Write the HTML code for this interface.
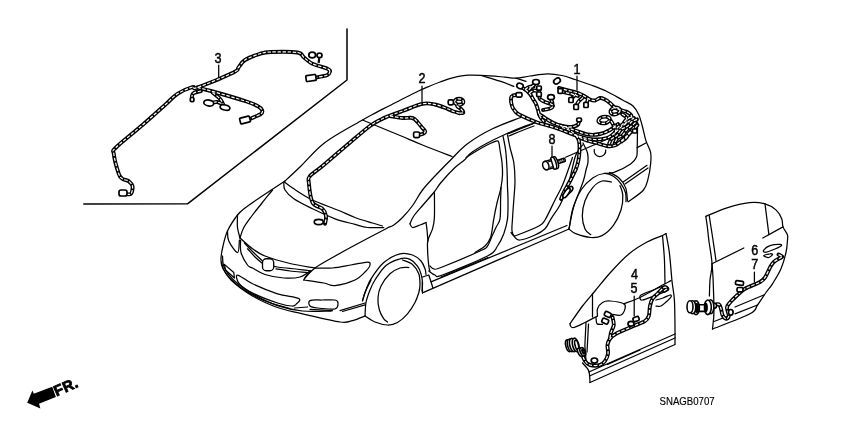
<!DOCTYPE html>
<html><head><meta charset="utf-8"><title>SNAGB0707</title>
<style>
html,body{margin:0;padding:0;background:#fff}
body{width:850px;height:425px;overflow:hidden}
svg{display:block;will-change:transform}
text{font-family:"Liberation Sans",sans-serif;fill:#000}
.t{fill:none;stroke:#000;stroke-width:1.25;stroke-linecap:round;stroke-linejoin:round}
.m{fill:none;stroke:#000;stroke-width:1.5;stroke-linecap:round;stroke-linejoin:round}
.hb{fill:none;stroke:#000;stroke-width:3.9;stroke-linecap:round;stroke-linejoin:round}
.hw{fill:none;stroke:#fff;stroke-width:1.2;stroke-dasharray:3.4 1.6;stroke-linejoin:round}
.c{fill:#fff;stroke:#000;stroke-width:1.7;stroke-linejoin:round}
.n{font-size:14px;stroke:#000;stroke-width:0.45}
</style></head><body>
<svg width="850" height="425" viewBox="0 0 850 425">
<rect width="850" height="425" fill="#fff"/>
<g class="t">
<path d="M285.0,181.0 C287.7,178.5 294.3,172.4 301.0,166.0 C307.7,159.6 314.8,150.2 325.0,142.5 C335.2,134.8 354.0,125.0 362.5,120.0 C371.0,115.0 371.5,115.0 376.0,112.6 C380.5,110.2 384.6,108.2 389.4,105.7 C394.2,103.2 400.1,100.3 405.0,97.8 C409.9,95.3 414.8,92.8 419.0,90.8 C423.2,88.8 426.5,87.5 430.0,86.0 C433.5,84.5 436.2,83.4 440.0,82.0 C443.8,80.6 447.7,78.9 452.5,77.8 C457.3,76.7 462.5,75.5 468.8,75.2 C475.0,74.9 484.0,75.4 490.0,75.8 C496.0,76.1 500.7,76.8 505.0,77.2 C509.3,77.6 511.8,78.5 516.0,78.2 C520.2,78.0 524.8,76.7 530.0,76.0 C535.2,75.3 542.2,74.0 547.5,73.9 C552.8,73.8 557.4,74.6 562.0,75.5 C566.6,76.4 570.2,77.9 575.0,79.5 C579.8,81.1 585.8,83.1 591.0,85.0 C596.2,86.9 600.8,88.5 606.0,91.0 C611.2,93.5 618.0,97.5 622.5,100.0 C627.0,102.5 630.3,103.5 633.0,106.0 C635.7,108.5 637.2,111.3 638.8,114.7 C640.4,118.1 641.2,122.2 642.4,126.5 C643.6,130.8 644.5,136.3 645.9,140.6 C647.3,144.9 649.8,148.5 650.6,152.4 C651.4,156.3 651.0,159.7 650.6,164.0 C650.2,168.3 649.4,173.9 648.2,178.2 C647.0,182.5 646.8,186.1 643.5,190.0 C640.2,193.9 630.8,199.8 628.2,201.8"/>
<path d="M481.2,75.5 C484.4,76.5 494.6,79.4 500.0,81.2 C505.4,83.0 511.5,85.5 513.8,86.4"/>
<path d="M516.0,78.2 L526.0,81.4"/>
<path d="M362.5,120.0 C368.8,122.6 390.0,131.3 400.0,135.5 C410.0,139.7 413.8,141.5 422.5,145.0 C431.2,148.5 447.1,154.6 452.0,156.5"/>
<path d="M388.0,227.5 C389.0,227.1 391.3,226.7 393.8,225.0 C396.2,223.3 399.3,220.8 402.5,217.5 C405.7,214.2 409.7,209.6 413.0,205.0 C416.3,200.4 418.8,194.8 422.5,190.0 C426.2,185.2 430.3,181.0 435.0,176.0 C439.7,171.0 445.2,165.4 450.6,160.0 C456.0,154.6 460.5,149.0 467.5,143.8 C474.5,138.5 483.6,133.1 492.5,128.8 C501.4,124.4 515.9,119.4 520.6,117.5"/>
<path d="M410.0,223.8 C410.6,222.5 411.6,219.1 413.8,216.0 C415.9,212.9 419.7,208.9 423.0,205.0 C426.3,201.1 430.8,196.2 433.8,192.5 C436.8,188.8 437.5,186.7 441.0,182.5 C444.5,178.3 451.1,171.2 455.0,167.5 C458.9,163.8 461.7,162.4 464.4,160.0 C467.1,157.6 467.4,155.7 471.0,153.0 C474.6,150.3 480.5,146.8 486.0,143.8 C491.5,140.8 497.2,137.9 503.8,135.0 C510.2,132.1 519.6,128.3 525.0,126.2 C530.4,124.2 534.2,123.1 536.0,122.5"/>
<path d="M466.0,157.5 C468.8,155.8 477.5,150.2 482.5,147.5 C487.5,144.8 493.3,142.1 496.0,141.2 C498.7,140.4 498.1,141.0 498.8,142.5 C499.4,144.0 499.5,146.7 500.0,150.0 C500.5,153.3 501.6,158.3 502.0,162.5 C502.4,166.7 502.7,170.8 502.5,175.0 C502.3,179.2 501.9,182.8 501.0,187.5 C500.1,192.2 498.2,197.8 497.0,203.0 C495.8,208.2 494.8,213.0 493.8,218.8 C492.7,224.5 492.1,233.0 490.6,237.5 C489.1,242.0 487.6,243.5 485.0,246.0 C482.4,248.5 476.7,251.4 475.0,252.5"/>
<path d="M507.5,134.0 C509.6,133.2 515.8,130.7 520.0,129.0 C524.2,127.3 530.4,124.8 532.5,124.0"/>
<path d="M509.0,136.0 C511.0,135.2 516.8,132.7 521.0,131.0 C525.2,129.3 531.8,126.8 534.0,126.0"/>
<path d="M284.4,182.0 C286.0,183.1 289.1,185.8 293.8,188.8 C298.4,191.8 305.2,196.5 312.5,200.0 C319.8,203.5 330.4,207.1 337.5,210.0 C344.6,212.9 349.2,215.3 355.0,217.5 C360.8,219.7 367.9,221.6 372.5,223.0 C377.1,224.4 380.8,225.5 382.5,226.0"/>
<path d="M283.8,182.5 C284.0,183.8 283.3,187.3 285.0,190.0 C286.7,192.7 289.2,195.6 293.8,198.8 C298.3,201.9 305.6,205.4 312.5,208.8 C319.4,212.1 327.9,216.1 335.0,218.8 C342.1,221.4 349.6,222.9 355.0,224.4 C360.4,225.9 362.7,227.0 367.5,227.5 C372.3,228.0 381.0,227.5 383.8,227.5"/>
<path d="M285.0,181.0 C280.8,183.8 266.7,193.0 260.0,197.5 C253.3,202.0 248.8,205.1 245.0,208.0 C241.2,210.9 240.4,211.2 237.5,215.0 C234.6,218.8 229.9,225.8 227.5,231.0 C225.1,236.2 224.1,241.4 223.0,246.0 C221.9,250.6 221.1,255.2 221.0,258.8 C220.9,262.3 220.8,264.0 222.5,267.5 C224.2,271.0 226.0,275.2 231.0,280.0 C236.0,284.8 244.8,291.4 252.5,296.0 C260.2,300.6 269.2,304.5 277.5,307.5 C285.8,310.5 292.1,311.3 302.5,313.8 C312.9,316.2 331.7,320.9 340.0,322.0 C348.3,323.1 348.3,321.6 352.5,320.6 C356.7,319.6 362.9,316.8 365.0,316.0"/>
<path d="M272.5,190.0 C270.8,192.2 265.3,198.8 262.0,203.0 C258.7,207.2 255.5,210.9 252.5,215.0 C249.5,219.1 245.8,223.7 243.8,227.5 C241.7,231.3 240.6,236.2 240.0,238.0"/>
<path d="M237.5,215.0 C237.5,217.1 237.1,223.7 237.5,227.5 C237.9,231.3 239.6,236.2 240.0,238.0"/>
<path d="M240.0,238.0 C242.1,239.8 248.3,245.8 252.5,248.8 C256.7,251.8 258.8,253.5 265.0,256.0 C271.2,258.5 281.7,261.5 290.0,263.5 C298.3,265.5 310.8,267.2 315.0,268.0"/>
<path d="M305.0,278.0 C306.7,276.3 310.4,271.4 315.0,268.0 C319.6,264.6 325.4,261.5 332.5,257.5 C339.6,253.5 348.3,248.7 357.5,243.8 C366.7,238.8 382.5,230.6 387.5,228.0"/>
<path d="M222.5,256.0 C222.8,257.8 222.2,263.1 224.0,267.0 C225.8,270.9 228.2,275.0 233.0,279.5 C237.8,284.0 245.6,289.6 253.0,294.0 C260.4,298.4 269.2,302.8 277.5,305.6 C285.8,308.4 293.6,310.1 302.5,311.0 C311.4,311.9 326.2,311.0 331.0,311.0"/>
<path d="M221.5,262.0 C222.1,263.7 221.9,267.8 225.0,272.0 C228.1,276.2 233.3,282.2 240.0,287.0 C246.7,291.8 256.7,297.4 265.0,301.0 C273.3,304.6 285.8,307.2 290.0,308.5"/>
<path d="M340.0,310.6 L365.0,303.0"/>
<path d="M342.5,311.5 L365.0,304.8"/>
<path d="M371.0,280.0 C370.0,282.1 366.4,289.1 365.0,292.5 C363.6,295.9 362.9,299.2 362.5,300.6"/>
<path d="M227.5,231.0 C227.7,232.7 227.1,237.4 228.8,241.0 C230.4,244.6 235.7,252.7 237.5,252.5 C239.3,252.3 239.1,242.1 239.4,240.0"/>
<path d="M224.4,264.4 L233.8,272.5 L234.4,278.0 L225.5,270.0Z"/>
<path d="M240.6,240.0 C240.7,242.1 239.8,248.3 241.0,252.5 C242.2,256.7 245.6,262.4 247.5,265.0 C249.4,267.6 249.6,266.4 252.5,268.0 C255.4,269.6 259.8,272.8 265.0,274.5 C270.2,276.2 277.9,277.6 283.8,278.0 C289.6,278.4 295.6,278.2 300.0,277.0 C304.4,275.8 308.3,272.0 310.0,271.0"/>
<path d="M244.4,243.0 C245.8,244.5 250.0,249.0 253.0,252.0 C256.0,255.0 260.9,259.5 262.5,261.0"/>
<path d="M247.5,248.8 C248.8,250.1 252.5,254.5 255.0,257.0 C257.5,259.5 261.2,262.4 262.5,263.5"/>
<path d="M273.8,266.0 C274.4,266.2 271.5,266.2 277.5,267.0 C283.5,267.8 304.6,270.0 310.0,270.6"/>
<path d="M276.0,268.8 C278.3,269.1 284.8,270.4 290.0,271.0 C295.2,271.6 304.6,272.2 307.5,272.5"/>
<path d="M315.0,268.0 C317.9,268.0 326.5,268.5 332.5,268.0 C338.5,267.5 345.2,266.0 351.0,265.0 C356.8,264.0 364.3,262.0 367.5,262.0 C370.7,262.0 370.2,263.5 370.0,265.0 C369.8,266.5 368.5,268.5 366.0,271.0 C363.5,273.5 360.2,277.6 355.0,280.0 C349.8,282.4 340.2,285.1 335.0,285.6 C329.8,286.1 329.0,283.9 323.8,283.0 C318.5,282.1 307.1,280.5 303.8,280.0"/>
<path d="M303.8,280.0 C304.1,279.3 304.8,277.6 306.0,276.0 C307.2,274.4 310.2,271.4 311.0,270.5"/>
<path d="M237.5,275.0 C239.7,275.0 245.8,280.6 252.5,283.8 C259.2,286.9 269.8,291.3 277.5,293.8 C285.2,296.2 295.7,296.7 298.8,298.5 C301.8,300.3 297.1,303.1 296.0,304.4 C294.9,305.6 295.1,306.2 292.0,306.0 C288.9,305.8 284.1,305.2 277.5,303.0 C270.9,300.8 258.9,296.2 252.5,293.0 C246.2,289.8 241.9,286.8 239.4,283.8 C236.9,280.8 235.3,275.0 237.5,275.0Z"/>
<path d="M310.0,300.6 C312.0,299.6 317.8,300.1 322.0,300.0 C326.2,299.9 332.3,299.5 335.0,300.0 C337.7,300.5 338.0,301.5 338.0,303.0 C338.0,304.5 338.4,307.9 335.0,308.8 C331.6,309.6 321.7,308.5 317.5,308.0 C313.3,307.5 311.2,307.2 310.0,306.0 C308.8,304.8 308.0,301.6 310.0,300.6Z"/>
<path d="M294.4,308.0 L307.5,307.0"/>
<path d="M310.0,309.4 L332.5,310.6"/>
<path d="M362.5,301.0 C363.1,299.2 364.6,293.7 366.0,290.0 C367.4,286.3 368.0,283.3 371.0,278.8 C374.0,274.2 378.9,266.7 383.8,262.5 C388.6,258.3 395.2,255.0 400.0,253.8 C404.8,252.5 409.0,253.8 412.5,255.0 C416.0,256.2 418.9,258.7 421.0,261.0 C423.1,263.3 424.2,266.5 425.0,268.8 C425.8,271.0 425.8,273.5 426.0,274.4"/>
<path d="M365.0,316.0 C365.2,313.8 365.2,306.8 366.0,302.5 C366.8,298.2 368.5,293.8 370.0,290.0 C371.5,286.2 372.3,284.1 375.0,280.0 C377.7,275.9 381.8,269.1 386.0,265.6 C390.2,262.1 396.0,259.8 400.0,258.8 C404.0,257.7 407.1,258.2 410.0,259.4 C412.9,260.6 415.7,263.6 417.5,266.0 C419.3,268.4 420.2,271.0 421.0,273.8 C421.8,276.5 422.3,279.6 422.5,282.5 C422.7,285.4 422.1,289.6 422.0,291.0"/>
<path d="M402.5,260.0 C404.2,260.7 409.8,262.1 412.5,264.4 C415.2,266.7 417.5,270.3 418.8,273.8 C420.0,277.2 420.0,281.9 420.0,285.0 C420.0,288.1 419.6,289.6 418.8,292.5 C417.9,295.4 416.9,299.0 415.0,302.5 C413.1,306.0 410.4,310.4 407.5,313.8 C404.6,317.1 400.8,320.6 397.5,322.5 C394.2,324.4 391.2,325.1 387.5,325.0 C383.8,324.9 378.8,323.5 375.0,322.0 C371.2,320.5 366.7,317.0 365.0,316.0"/>
<path d="M408.8,267.5 C407.3,267.6 403.1,267.0 400.0,268.0 C396.9,269.0 393.2,270.8 390.0,273.8 C386.8,276.8 383.0,282.0 381.0,286.0 C379.0,290.0 378.3,293.5 378.0,297.5 C377.7,301.5 378.4,306.5 379.4,310.0 C380.4,313.5 382.4,316.8 383.8,318.8 C385.1,320.8 386.9,321.5 387.5,322.0"/>
<path d="M434.4,192.5 C434.4,196.7 434.7,211.5 434.4,217.5 C434.1,223.5 433.6,225.0 432.5,228.8 C431.4,232.5 428.8,236.9 428.0,240.0 C427.2,243.1 427.4,243.2 427.5,247.5 C427.6,251.8 428.3,262.1 428.8,266.0 C429.2,269.9 429.8,270.2 430.0,271.0"/>
<path d="M410.0,223.8 C410.4,224.4 410.8,227.3 412.5,227.5 C414.2,227.7 417.8,225.8 420.0,225.0 C422.2,224.2 425.0,222.9 426.0,222.5"/>
<path d="M426.0,222.5 C426.2,223.8 426.7,226.9 427.0,230.0 C427.3,233.1 427.8,239.2 428.0,241.0"/>
<path d="M430.0,266.0 C430.6,266.5 431.9,268.5 433.8,268.8 C435.6,269.0 433.3,270.5 441.0,267.5 C448.7,264.5 472.2,254.6 480.0,251.0 C487.8,247.4 485.4,248.7 487.5,246.0 C489.6,243.3 491.1,238.1 492.5,235.0 C493.9,231.9 494.8,230.2 496.0,227.5 C497.2,224.8 499.2,223.3 500.0,218.8 C500.8,214.2 500.4,205.2 500.6,200.0 C500.8,194.8 500.9,189.6 501.0,187.5"/>
<path d="M428.8,271.0 C429.8,271.7 432.7,274.3 435.0,275.0 C437.3,275.7 433.8,278.2 442.5,275.0 C451.2,271.8 478.3,260.8 487.5,256.0 C496.7,251.2 494.8,249.7 497.5,246.0 C500.2,242.3 502.1,238.3 503.8,233.8 C505.4,229.2 506.8,224.4 507.5,218.8 C508.2,213.1 508.0,205.2 508.0,200.0 C508.0,194.8 507.7,192.7 507.5,187.5 C507.3,182.3 507.3,175.0 507.0,168.8 C506.7,162.5 506.3,155.5 505.6,150.0 C504.9,144.5 503.4,138.3 503.0,136.0"/>
<path d="M441.0,277.0 L488.0,257.5"/>
<path d="M507.5,135.0 C507.9,137.1 509.0,142.9 510.0,147.5 C511.0,152.1 512.9,156.9 513.8,162.5 C514.6,168.1 515.0,174.8 515.0,181.0 C515.0,187.2 514.2,193.7 513.8,200.0 C513.3,206.3 512.8,213.6 512.5,218.8 C512.2,223.9 511.6,227.9 512.0,231.0 C512.4,234.1 513.7,236.0 515.0,237.5 C516.3,239.0 516.7,240.4 520.0,240.0 C523.3,239.6 530.8,236.9 535.0,235.0 C539.2,233.1 542.3,231.5 545.0,228.8 C547.7,226.0 548.5,222.7 551.0,218.8 C553.5,214.8 557.2,210.3 560.0,205.0 C562.8,199.7 565.0,194.9 567.5,187.0 C570.0,179.1 573.1,163.7 575.0,157.5 C576.9,151.3 577.5,152.1 578.8,150.0 C580.0,147.9 581.9,145.8 582.5,145.0"/>
<path d="M511.0,232.5 C511.5,233.0 512.7,235.2 513.8,235.6 C514.8,236.0 513.3,236.6 517.5,235.0 C521.7,233.4 534.2,228.5 538.8,226.0 C543.3,223.5 542.3,224.3 545.0,220.0 C547.7,215.7 552.0,206.0 555.0,200.0 C558.0,194.0 560.1,191.1 563.0,184.0 C565.9,176.9 570.9,161.9 572.5,157.5"/>
<path d="M431.0,281.8 L567.0,225.5"/>
<path d="M422.5,292.9 L569.0,229.0"/>
<path d="M422.5,277.0 L428.8,275.0 L431.0,281.8 L433.0,288.3"/>
<path d="M422.3,282.0 L422.5,292.9"/>
<path d="M583.0,143.0 C583.8,144.7 586.7,149.8 587.5,153.0 C588.3,156.2 588.2,159.2 588.0,162.0 C587.8,164.8 586.8,166.7 586.0,170.0 C585.2,173.3 585.0,175.9 583.0,182.0 C581.0,188.1 576.1,198.6 573.8,206.4 C571.5,214.2 569.8,225.2 569.0,229.0"/>
<path d="M569.0,229.0 C569.7,225.6 570.9,214.9 573.0,208.3 C575.1,201.7 578.1,194.6 581.4,189.5 C584.7,184.4 588.9,180.7 592.7,178.0 C596.5,175.3 600.5,173.8 604.0,173.5 C607.5,173.2 610.6,174.6 613.4,176.3 C616.2,178.0 619.0,181.0 621.0,183.8 C623.0,186.6 624.8,190.0 625.6,193.0 C626.4,196.0 625.9,200.2 626.0,201.7"/>
<path d="M609.6,172.5 C611.2,173.4 616.3,175.5 619.0,178.0 C621.7,180.5 624.2,183.8 625.6,187.6 C627.0,191.4 627.2,198.6 627.5,200.8"/>
<path d="M569.0,229.0 C570.1,229.8 572.1,232.3 575.7,233.7 C579.3,235.1 586.4,237.2 590.8,237.5 C595.2,237.8 598.2,237.6 602.0,235.6 C605.8,233.6 610.2,229.6 613.4,225.3 C616.6,221.0 619.4,215.1 621.0,210.0 C622.6,204.9 623.0,199.1 622.8,195.0 C622.6,190.9 620.5,187.2 620.0,185.7"/>
<path d="M611.5,182.0 C609.9,181.8 605.1,180.1 602.0,181.0 C598.9,181.9 595.5,184.3 592.7,187.6 C589.9,190.9 586.7,196.1 585.0,200.8 C583.3,205.5 582.3,211.1 582.3,215.8 C582.3,220.5 583.6,225.8 585.0,229.0 C586.4,232.2 589.8,233.8 590.8,234.7"/>
<path d="M594.3,149.5 A5.8,5.8 0 1 0 605.7,150"/>
<path d="M604.0,173.5 C605.7,173.3 609.6,174.0 614.0,172.4 C618.4,170.8 626.9,166.6 630.6,164.0 C634.4,161.4 635.4,159.7 636.5,157.0 C637.6,154.3 637.0,153.5 637.2,147.6 C637.4,141.7 637.5,126.1 637.6,121.8"/>
<path d="M637.2,147.6 L645.9,143.0"/>
<path d="M623.5,181.8 L647.0,165.3"/>
<path d="M625.0,184.0 L648.0,168.0"/>
<path d="M570.0,323.8 C572.1,320.8 578.3,311.5 582.5,306.0 C586.7,300.5 590.4,296.5 595.0,291.0 C599.6,285.5 604.4,279.2 610.0,273.0 C615.6,266.8 622.5,259.2 628.8,254.0 C635.0,248.8 641.9,244.8 647.5,241.8 C653.1,238.7 659.4,236.9 662.5,235.5 C665.6,234.1 665.4,233.9 666.0,233.6"/>
<path d="M666.0,233.6 C666.6,236.8 668.4,245.1 669.4,253.0 C670.4,260.9 671.2,273.2 672.0,281.0 C672.8,288.8 673.9,292.2 674.4,300.0 C674.9,307.8 674.9,320.7 675.0,328.0 C675.1,335.3 675.0,341.3 675.0,344.0"/>
<path d="M662.5,235.5 C662.8,239.4 664.0,251.0 664.4,259.0 C664.8,267.0 664.9,279.6 665.0,283.8"/>
<path d="M570.0,323.8 C570.1,324.1 569.9,325.4 570.5,326.0 C571.1,326.6 571.3,328.1 573.8,327.5 C576.2,326.9 581.0,324.4 585.0,322.5 C589.0,320.6 595.4,317.1 597.5,316.0"/>
<path d="M592.5,293.8 L592.5,317.0"/>
<path d="M623.8,303.8 C626.2,302.8 631.9,301.3 638.8,298.0 C645.6,294.7 659.6,286.6 665.0,283.8 C670.4,280.9 670.0,281.1 671.0,280.6"/>
<path d="M586.0,322.5 C585.8,325.9 585.2,338.8 585.0,343.0 C584.8,347.2 584.8,344.7 585.0,347.5 C585.2,350.3 585.8,357.9 586.0,360.0"/>
<path d="M588.5,324.0 C588.3,327.2 587.8,338.3 587.5,343.0 C587.2,347.7 587.1,350.5 587.0,352.0"/>
<path d="M582.5,363.0 C583.5,364.3 587.5,367.8 588.8,371.0 C590.0,374.2 589.8,380.6 590.0,382.5"/>
<path d="M588.8,372.0 L675.0,334.0"/>
<path d="M589.4,376.0 L675.0,338.0"/>
<path d="M590.0,382.5 L675.0,344.5"/>
<path d="M607.5,364.4 L640.0,350.0"/>
<path d="M597.5,316.0 C597.5,314.8 596.7,311.0 597.5,308.8 C598.3,306.5 600.4,303.8 602.5,302.5 C604.6,301.2 606.5,300.8 610.0,301.0 C613.5,301.2 621.2,302.5 623.8,303.8 C626.2,305.0 625.5,306.9 625.0,308.8 C624.5,310.6 623.1,314.1 621.0,315.0 C618.9,315.9 613.9,314.5 612.5,314.4"/>
<path d="M596.0,317.5 C596.2,318.5 595.9,322.6 597.0,323.8 C598.1,324.9 601.6,324.3 602.5,324.4"/>
<path d="M641.0,295.0 C643.0,293.8 648.2,292.0 652.0,290.5 C655.8,289.0 661.1,286.5 663.8,286.0 C666.4,285.5 667.4,286.7 668.0,287.5 C668.6,288.3 669.7,289.3 667.5,290.6 C665.3,291.9 659.2,293.9 655.0,295.5 C650.8,297.1 645.0,299.6 642.5,300.0 C640.0,300.4 640.2,298.8 640.0,298.0 C639.8,297.2 639.0,296.2 641.0,295.0Z"/>
<path d="M656.0,300.0 C657.2,299.7 660.7,298.8 663.0,298.0 C665.3,297.2 668.7,295.2 670.0,295.0 C671.3,294.8 671.7,295.8 671.0,297.0 C670.3,298.2 667.7,300.5 666.0,302.0 C664.3,303.5 662.7,305.3 661.0,306.0 C659.3,306.7 656.8,306.0 656.0,306.0"/>
<path d="M705.8,216.4 C709.3,215.0 719.7,210.2 727.0,207.9 C734.3,205.6 743.1,203.4 749.4,202.7 C755.7,202.0 760.5,202.7 765.0,203.9 C769.5,205.1 773.4,207.6 776.2,210.1 C779.0,212.6 780.7,216.2 781.8,219.0 C782.9,221.8 782.1,224.3 783.0,226.9 C783.9,229.5 786.6,232.5 787.4,234.7 C788.1,236.9 787.7,237.0 787.5,240.0 C787.3,243.0 787.1,247.7 786.0,252.5 C784.9,257.3 783.2,263.5 781.0,268.8 C778.8,274.0 775.0,279.8 772.5,283.8 C770.0,287.7 768.5,289.0 766.0,292.5 C763.5,296.0 760.2,301.5 757.5,305.0 C754.8,308.5 757.5,309.8 750.0,313.8 C742.5,317.8 718.8,326.5 712.5,329.0"/>
<path d="M705.8,216.4 C706.1,218.3 707.0,224.1 707.5,228.0 C708.0,231.9 708.0,234.0 708.8,240.0 C709.5,246.0 711.8,257.1 712.0,263.8 C712.2,270.4 710.4,274.6 710.0,280.0 C709.6,285.4 709.5,293.3 709.4,296.0"/>
<path d="M709.2,215.7 C709.8,219.8 711.9,232.5 713.0,240.0 C714.1,247.5 715.5,257.2 716.0,260.6"/>
<path d="M712.0,263.8 C712.2,266.0 712.7,271.5 713.0,277.5 C713.3,283.5 713.6,293.6 713.8,300.0 C713.9,306.4 714.0,311.2 713.8,316.0 C713.5,320.8 712.7,326.8 712.5,329.0"/>
<path d="M712.0,263.8 L743.8,248.0"/>
<path d="M762.8,238.0 L783.0,226.9"/>
<path d="M765.0,203.9 L768.9,234.7"/>
<path d="M735.0,307.0 L763.8,295.0"/>
<path d="M735.0,313.8 L757.5,305.0"/>
<path d="M714.0,321.5 L727.0,316.5"/>
<path d="M763.8,250.0 C764.6,248.9 767.3,246.5 770.0,245.6 C772.7,244.7 778.2,244.3 780.0,244.4 C781.8,244.5 782.2,245.1 781.0,246.0 C779.8,246.9 775.2,248.9 772.5,250.0 C769.8,251.1 766.5,252.3 765.0,252.3 C763.5,252.3 762.9,251.1 763.8,250.0Z"/>
<path d="M763.8,255.6 C764.0,255.0 768.5,253.9 770.0,253.8 C771.5,253.6 772.7,253.9 772.5,254.5 C772.3,255.1 770.2,257.3 768.8,257.5 C767.3,257.7 763.5,256.2 763.8,255.6Z"/>
<path d="M318.8,57.5 L318.2,62.5"/>
<path d="M319.8,57.5 L319.2,62.5"/>
<path d="M565.6,157.2 L614.0,136.3"/>
<path d="M218.7,65.0 L218.7,77.0"/>
<path d="M422.0,86.0 L422.0,103.0"/>
<path d="M577.0,76.0 L577.0,90.0"/>
<path d="M552.0,146.0 L552.0,157.5"/>
<path d="M634.2,296.0 L634.2,316.0"/>
<path d="M754.4,272.0 L754.4,282.0"/>
</g>
<g class="m">
<path d="M347.0,29.0 L347.0,80.0 L187.5,203.8 L83.8,204.0"/>
</g>
<g class="hb">
<path d="M330.0,71.0 C329.6,70.6 330.4,70.0 327.5,68.8 C324.6,67.5 316.4,65.6 312.5,63.8 C308.6,61.9 306.5,59.4 304.0,57.5 C301.5,55.6 303.0,53.4 297.5,52.5 C292.0,51.6 277.2,51.8 271.0,52.0 C264.8,52.2 264.3,52.4 260.0,53.8 C255.7,55.1 248.6,57.7 245.0,60.0 C241.4,62.3 240.4,65.4 238.5,67.5 C236.6,69.6 240.3,69.2 233.5,72.5 C226.7,75.8 204.3,85.1 197.5,87.5 C190.7,89.9 195.8,86.0 192.5,87.0 C189.2,88.0 182.1,90.8 177.5,93.8 C172.9,96.8 170.8,99.8 165.0,105.0 C159.2,110.2 150.7,117.9 142.5,125.0 C134.3,132.1 120.8,142.7 116.0,147.5 C111.2,152.3 113.3,149.4 113.8,153.8 C114.2,158.1 117.3,169.6 118.8,173.8 C120.2,177.9 120.8,177.5 122.5,178.8 C124.2,180.0 127.1,180.0 128.8,181.2 C130.4,182.5 132.1,184.2 132.5,186.2 C132.9,188.3 132.1,192.5 131.0,193.8 C129.9,195.0 126.8,194.0 126.0,194.0"/>
<path d="M330.0,71.0 C329.6,71.7 329.8,73.9 327.5,75.0 C325.2,76.1 317.9,77.1 316.0,77.5"/>
<path d="M197.5,87.5 C199.8,88.1 203.1,88.8 211.0,91.0 C218.9,93.2 237.2,98.5 245.0,101.0 C252.8,103.5 254.7,104.5 257.5,106.0 C260.3,107.5 261.4,108.7 262.0,110.0 C262.6,111.3 263.0,112.2 261.0,113.8 C259.0,115.2 251.8,118.1 250.0,119.0"/>
<path d="M201.0,91.0 C199.8,91.3 195.2,92.2 193.8,93.0 C192.2,93.8 192.3,94.8 192.0,96.0 C191.7,97.2 192.0,99.3 192.0,100.0"/>
<path d="M212.5,92.5 C213.8,93.5 218.3,97.0 220.0,98.8 C221.7,100.5 221.9,101.9 222.5,103.0 C223.1,104.1 223.3,105.1 223.5,105.5"/>
<path d="M221.5,103.5 C220.8,103.2 218.4,102.2 217.0,102.0 C215.6,101.8 213.7,102.4 213.0,102.5"/>
<path d="M459.6,113.2 C458.6,112.9 455.8,112.2 453.8,111.5 C451.7,110.8 450.6,109.9 447.5,108.8 C444.4,107.6 439.2,105.3 435.0,104.5 C430.8,103.7 427.9,102.7 422.5,103.8 C417.1,104.8 408.1,109.0 402.5,111.0 C396.9,113.0 392.1,114.7 388.8,116.0 C385.4,117.3 385.6,117.1 382.5,118.8 C379.4,120.4 375.4,122.0 370.0,126.0 C364.6,130.0 357.9,135.8 350.0,142.5 C342.1,149.2 329.2,160.4 322.5,166.0 C315.8,171.6 312.3,173.2 310.0,176.0 C307.7,178.8 308.3,178.1 308.8,182.5 C309.2,186.9 310.2,198.1 312.5,202.5 C314.8,206.9 320.2,206.5 322.5,208.8 C324.8,211.0 325.6,213.5 326.0,216.0 C326.4,218.5 325.2,222.5 325.0,223.8"/>
<path d="M390.0,116.0 C392.1,116.3 398.9,117.7 402.6,118.0 C406.4,118.3 410.0,117.3 412.5,118.0 C415.0,118.7 415.8,120.3 417.4,122.0 C419.0,123.7 421.1,126.3 422.4,127.9 C423.7,129.5 425.1,130.5 425.2,131.5 C425.3,132.5 423.9,133.3 423.0,133.8 C422.1,134.3 420.5,134.5 420.0,134.6"/>
<path d="M459.6,113.2 C460.2,113.1 463.1,113.3 463.3,112.6 C463.5,111.9 462.0,110.0 461.0,109.0 C460.0,108.0 458.2,107.2 457.5,106.5 C456.8,105.8 456.9,104.8 456.8,104.5"/>
<path d="M454.6,101.8 a4.4,3 0 1 0 8.8,0 a4.4,3 0 1 0 -8.8,0"/>
<path d="M517.0,95.0 C516.3,95.1 514.0,95.0 513.0,95.5 C512.0,96.0 511.2,96.2 511.0,98.0 C510.8,99.8 511.3,103.8 512.0,106.0 C512.7,108.2 513.7,109.5 515.0,111.0 C516.3,112.5 516.5,113.2 520.0,115.0 C523.5,116.8 530.0,119.8 536.0,122.0 C542.0,124.2 549.0,125.7 556.0,128.0 C563.0,130.3 571.7,134.1 578.0,136.0 C584.3,137.9 589.2,139.2 594.0,139.5 C598.8,139.8 603.7,139.0 607.0,138.0 C610.3,137.0 611.8,135.2 614.0,133.5 C616.2,131.8 617.7,129.9 620.0,128.0 C622.3,126.1 625.7,123.7 628.0,122.0 C630.3,120.3 633.0,118.7 634.0,118.0"/>
<path d="M521.0,87.0 C521.8,87.5 524.5,88.8 526.0,90.0 C527.5,91.2 528.8,92.5 530.0,94.0 C531.2,95.5 532.0,97.3 533.0,99.0 C534.0,100.7 535.2,102.2 536.0,104.0 C536.8,105.8 537.5,108.3 538.0,110.0 C538.5,111.7 538.5,112.7 539.0,114.0 C539.5,115.3 540.2,116.8 541.0,118.0 C541.8,119.2 543.5,120.9 544.0,121.5"/>
<path d="M535.0,84.0 C534.3,84.6 532.2,86.3 531.0,87.5 C529.8,88.7 528.5,90.4 528.0,91.0"/>
<path d="M539.0,90.0 C539.1,91.0 539.3,94.5 539.5,96.0 C539.7,97.5 539.1,98.0 540.0,99.0 C540.9,100.0 543.2,101.2 545.0,102.0 C546.8,102.8 549.7,103.3 551.0,104.0 C552.3,104.7 553.2,105.2 553.0,106.0 C552.8,106.8 551.7,107.8 550.0,108.5 C548.3,109.2 544.2,109.8 543.0,110.0"/>
<path d="M551.0,99.0 L552.5,103.0"/>
<path d="M525.0,89.5 C525.7,89.1 527.6,87.5 529.0,87.0 C530.4,86.5 532.8,86.6 533.5,86.5"/>
<path d="M529.5,93.0 C530.2,92.6 532.2,90.8 533.5,90.5 C534.8,90.2 536.4,90.9 537.0,91.0"/>
<path d="M562.0,127.5 C563.3,128.0 567.1,128.9 570.0,130.5 C572.9,132.1 576.2,135.6 579.4,137.3 C582.5,139.1 585.8,140.0 588.9,141.0 C592.0,142.0 595.2,142.6 598.3,143.5 C601.4,144.4 604.9,145.9 607.7,146.2 C610.5,146.5 613.1,146.2 615.3,145.3 C617.5,144.4 619.1,142.5 621.0,141.0 C622.9,139.5 625.0,137.7 626.6,136.3 C628.2,134.9 629.2,134.1 630.4,132.5 C631.6,130.9 633.4,127.9 634.0,127.0"/>
<path d="M539.0,114.0 C540.5,115.0 545.2,118.3 548.0,120.0 C550.8,121.7 551.7,122.3 556.0,124.0 C560.3,125.7 568.7,128.2 574.0,130.0 C579.3,131.8 583.7,133.8 588.0,134.5 C592.3,135.2 596.3,134.8 600.0,134.0 C603.7,133.2 607.0,131.7 610.0,130.0 C613.0,128.3 616.7,125.0 618.0,124.0"/>
<path d="M559.0,88.0 C560.5,88.4 564.8,89.7 568.0,90.5 C571.2,91.3 575.2,92.0 578.0,93.0 C580.8,94.0 583.0,95.4 585.0,96.5 C587.0,97.6 588.3,98.8 590.0,99.5 C591.7,100.2 593.3,100.8 595.0,100.5 C596.7,100.2 598.3,98.2 600.0,98.0 C601.7,97.8 603.3,98.7 605.0,99.5 C606.7,100.3 608.5,101.8 610.0,103.0 C611.5,104.2 612.7,106.0 614.0,107.0 C615.3,108.0 616.3,108.3 618.0,109.0 C619.7,109.7 622.3,110.4 624.0,111.0 C625.7,111.6 626.8,111.8 628.0,112.5 C629.2,113.2 630.3,114.1 631.0,115.0 C631.7,115.9 631.8,117.5 632.0,118.0"/>
<path d="M576.0,94.0 L573.0,97.0"/>
<path d="M583.0,97.5 C582.3,98.1 580.0,99.9 579.0,101.0 C578.0,102.1 577.3,103.5 577.0,104.0"/>
<path d="M588.0,99.0 L587.0,102.0"/>
<path d="M561.0,91.5 C562.5,91.8 567.2,92.8 570.0,93.5 C572.8,94.2 576.7,95.6 578.0,96.0"/>
<path d="M622.0,114.0 C622.7,114.5 625.2,115.8 626.0,117.0 C626.8,118.2 627.3,119.7 627.0,121.0 C626.7,122.3 624.5,124.3 624.0,125.0"/>
<path d="M579.0,121.5 C578.8,122.0 578.8,123.7 578.0,124.5 C577.2,125.3 575.7,126.1 574.0,126.5 C572.3,126.9 570.3,127.2 568.0,127.0 C565.7,126.8 561.3,125.8 560.0,125.5"/>
<path d="M611.0,121.0 C611.5,121.8 613.2,124.5 614.0,126.0 C614.8,127.5 616.0,128.5 616.0,130.0 C616.0,131.5 614.3,134.2 614.0,135.0"/>
<path d="M637.0,119.4 C636.2,119.8 633.7,120.3 632.0,121.5 C630.3,122.7 628.8,125.2 627.0,126.5 C625.2,127.8 622.7,128.0 621.0,129.5 C619.3,131.0 618.6,133.7 617.0,135.3 C615.4,136.9 612.8,137.6 611.5,139.0 C610.2,140.4 609.4,143.2 609.0,144.0"/>
<path d="M635.5,122.5 C634.7,123.2 632.0,125.8 630.5,127.0 C629.0,128.2 627.8,128.6 626.5,130.0 C625.2,131.4 624.0,134.2 622.5,135.5 C621.0,136.8 618.8,136.7 617.5,138.0 C616.2,139.3 615.0,142.6 614.5,143.5"/>
<path d="M631.0,117.0 C630.2,117.5 627.4,118.8 626.0,120.0 C624.6,121.2 623.8,123.3 622.5,124.5 C621.2,125.7 619.2,125.9 618.0,127.0 C616.8,128.1 615.9,130.3 615.5,131.0"/>
<path d="M637.5,125.0 C636.8,125.8 634.3,128.8 633.0,130.0 C631.7,131.2 630.7,131.2 629.5,132.5 C628.3,133.8 627.3,136.5 626.0,138.0 C624.7,139.5 622.2,140.9 621.5,141.5"/>
<path d="M576.0,135.0 C576.5,136.0 578.4,138.5 579.0,141.0 C579.6,143.5 579.6,146.8 579.5,150.0 C579.4,153.2 579.1,156.9 578.5,160.0 C577.9,163.1 577.4,165.2 576.0,168.8 C574.6,172.2 572.0,177.1 570.0,181.0 C568.0,184.9 565.5,189.0 564.0,192.0 C562.5,195.0 561.5,197.8 561.0,199.0"/>
<path d="M610.5,111 a4.7,3.2 -15 1 0 9.4,0 a4.7,3.2 -15 1 0 -9.4,0"/>
<path d="M598.5,120 a5.6,3.2 -10 1 0 11.2,0 a5.6,3.2 -10 1 0 -11.2,0"/>
<path d="M664.0,291.0 C664.5,290.6 667.0,289.1 667.0,288.5 C667.0,287.9 665.6,286.6 664.0,287.5 C662.4,288.4 659.4,291.9 657.5,293.8 C655.6,295.6 653.8,296.7 652.5,298.8 C651.2,300.8 650.6,303.1 650.0,306.0 C649.4,308.9 649.6,313.5 648.8,316.0 C647.9,318.5 647.1,319.5 645.0,321.0 C642.9,322.5 638.5,323.9 636.0,325.0 C633.5,326.1 633.3,326.0 630.0,327.5 C626.7,329.0 619.3,331.9 616.0,333.8 C612.7,335.6 611.4,336.9 610.0,338.8 C608.6,340.6 607.8,342.5 607.5,345.0 C607.2,347.5 608.4,351.1 608.0,353.8 C607.6,356.4 606.3,359.1 605.0,361.0 C603.7,362.9 602.5,364.3 600.0,365.0 C597.5,365.7 592.5,365.7 590.0,365.0 C587.5,364.3 586.2,362.7 585.0,361.0 C583.8,359.3 582.9,356.0 582.5,355.0"/>
<path d="M610.0,338.0 C610.2,337.1 610.4,334.7 611.0,332.5 C611.6,330.3 613.5,327.6 613.8,325.0 C614.0,322.4 612.7,318.3 612.5,317.0"/>
<path d="M778.5,254.6 C779.1,254.9 781.6,256.0 782.0,256.5 C782.4,257.0 782.4,256.6 781.0,257.5 C779.6,258.4 775.6,260.3 773.8,262.0 C771.9,263.7 771.5,264.9 770.0,267.5 C768.5,270.1 766.7,275.1 765.0,277.5 C763.3,279.9 763.3,280.1 760.0,282.0 C756.7,283.9 748.8,286.6 745.0,288.8 C741.2,290.9 740.0,292.7 737.5,295.0 C735.0,297.3 731.8,300.4 730.0,302.5 C728.2,304.6 727.2,305.2 727.0,307.5 C726.8,309.8 728.9,314.1 728.8,316.0 C728.6,317.9 727.0,318.9 726.0,318.8 C725.0,318.6 723.3,316.7 722.5,315.0 C721.7,313.3 721.6,310.5 721.0,308.8 C720.4,307.0 720.2,305.0 718.8,304.4 C717.3,303.8 713.5,304.9 712.5,305.0"/>
</g>
<g class="hw">
<path d="M330.0,71.0 C329.6,70.6 330.4,70.0 327.5,68.8 C324.6,67.5 316.4,65.6 312.5,63.8 C308.6,61.9 306.5,59.4 304.0,57.5 C301.5,55.6 303.0,53.4 297.5,52.5 C292.0,51.6 277.2,51.8 271.0,52.0 C264.8,52.2 264.3,52.4 260.0,53.8 C255.7,55.1 248.6,57.7 245.0,60.0 C241.4,62.3 240.4,65.4 238.5,67.5 C236.6,69.6 240.3,69.2 233.5,72.5 C226.7,75.8 204.3,85.1 197.5,87.5 C190.7,89.9 195.8,86.0 192.5,87.0 C189.2,88.0 182.1,90.8 177.5,93.8 C172.9,96.8 170.8,99.8 165.0,105.0 C159.2,110.2 150.7,117.9 142.5,125.0 C134.3,132.1 120.8,142.7 116.0,147.5 C111.2,152.3 113.3,149.4 113.8,153.8 C114.2,158.1 117.3,169.6 118.8,173.8 C120.2,177.9 120.8,177.5 122.5,178.8 C124.2,180.0 127.1,180.0 128.8,181.2 C130.4,182.5 132.1,184.2 132.5,186.2 C132.9,188.3 132.1,192.5 131.0,193.8 C129.9,195.0 126.8,194.0 126.0,194.0"/>
<path d="M330.0,71.0 C329.6,71.7 329.8,73.9 327.5,75.0 C325.2,76.1 317.9,77.1 316.0,77.5"/>
<path d="M197.5,87.5 C199.8,88.1 203.1,88.8 211.0,91.0 C218.9,93.2 237.2,98.5 245.0,101.0 C252.8,103.5 254.7,104.5 257.5,106.0 C260.3,107.5 261.4,108.7 262.0,110.0 C262.6,111.3 263.0,112.2 261.0,113.8 C259.0,115.2 251.8,118.1 250.0,119.0"/>
<path d="M201.0,91.0 C199.8,91.3 195.2,92.2 193.8,93.0 C192.2,93.8 192.3,94.8 192.0,96.0 C191.7,97.2 192.0,99.3 192.0,100.0"/>
<path d="M212.5,92.5 C213.8,93.5 218.3,97.0 220.0,98.8 C221.7,100.5 221.9,101.9 222.5,103.0 C223.1,104.1 223.3,105.1 223.5,105.5"/>
<path d="M221.5,103.5 C220.8,103.2 218.4,102.2 217.0,102.0 C215.6,101.8 213.7,102.4 213.0,102.5"/>
<path d="M459.6,113.2 C458.6,112.9 455.8,112.2 453.8,111.5 C451.7,110.8 450.6,109.9 447.5,108.8 C444.4,107.6 439.2,105.3 435.0,104.5 C430.8,103.7 427.9,102.7 422.5,103.8 C417.1,104.8 408.1,109.0 402.5,111.0 C396.9,113.0 392.1,114.7 388.8,116.0 C385.4,117.3 385.6,117.1 382.5,118.8 C379.4,120.4 375.4,122.0 370.0,126.0 C364.6,130.0 357.9,135.8 350.0,142.5 C342.1,149.2 329.2,160.4 322.5,166.0 C315.8,171.6 312.3,173.2 310.0,176.0 C307.7,178.8 308.3,178.1 308.8,182.5 C309.2,186.9 310.2,198.1 312.5,202.5 C314.8,206.9 320.2,206.5 322.5,208.8 C324.8,211.0 325.6,213.5 326.0,216.0 C326.4,218.5 325.2,222.5 325.0,223.8"/>
<path d="M390.0,116.0 C392.1,116.3 398.9,117.7 402.6,118.0 C406.4,118.3 410.0,117.3 412.5,118.0 C415.0,118.7 415.8,120.3 417.4,122.0 C419.0,123.7 421.1,126.3 422.4,127.9 C423.7,129.5 425.1,130.5 425.2,131.5 C425.3,132.5 423.9,133.3 423.0,133.8 C422.1,134.3 420.5,134.5 420.0,134.6"/>
<path d="M459.6,113.2 C460.2,113.1 463.1,113.3 463.3,112.6 C463.5,111.9 462.0,110.0 461.0,109.0 C460.0,108.0 458.2,107.2 457.5,106.5 C456.8,105.8 456.9,104.8 456.8,104.5"/>
<path d="M454.6,101.8 a4.4,3 0 1 0 8.8,0 a4.4,3 0 1 0 -8.8,0"/>
<path d="M517.0,95.0 C516.3,95.1 514.0,95.0 513.0,95.5 C512.0,96.0 511.2,96.2 511.0,98.0 C510.8,99.8 511.3,103.8 512.0,106.0 C512.7,108.2 513.7,109.5 515.0,111.0 C516.3,112.5 516.5,113.2 520.0,115.0 C523.5,116.8 530.0,119.8 536.0,122.0 C542.0,124.2 549.0,125.7 556.0,128.0 C563.0,130.3 571.7,134.1 578.0,136.0 C584.3,137.9 589.2,139.2 594.0,139.5 C598.8,139.8 603.7,139.0 607.0,138.0 C610.3,137.0 611.8,135.2 614.0,133.5 C616.2,131.8 617.7,129.9 620.0,128.0 C622.3,126.1 625.7,123.7 628.0,122.0 C630.3,120.3 633.0,118.7 634.0,118.0"/>
<path d="M521.0,87.0 C521.8,87.5 524.5,88.8 526.0,90.0 C527.5,91.2 528.8,92.5 530.0,94.0 C531.2,95.5 532.0,97.3 533.0,99.0 C534.0,100.7 535.2,102.2 536.0,104.0 C536.8,105.8 537.5,108.3 538.0,110.0 C538.5,111.7 538.5,112.7 539.0,114.0 C539.5,115.3 540.2,116.8 541.0,118.0 C541.8,119.2 543.5,120.9 544.0,121.5"/>
<path d="M535.0,84.0 C534.3,84.6 532.2,86.3 531.0,87.5 C529.8,88.7 528.5,90.4 528.0,91.0"/>
<path d="M539.0,90.0 C539.1,91.0 539.3,94.5 539.5,96.0 C539.7,97.5 539.1,98.0 540.0,99.0 C540.9,100.0 543.2,101.2 545.0,102.0 C546.8,102.8 549.7,103.3 551.0,104.0 C552.3,104.7 553.2,105.2 553.0,106.0 C552.8,106.8 551.7,107.8 550.0,108.5 C548.3,109.2 544.2,109.8 543.0,110.0"/>
<path d="M551.0,99.0 L552.5,103.0"/>
<path d="M525.0,89.5 C525.7,89.1 527.6,87.5 529.0,87.0 C530.4,86.5 532.8,86.6 533.5,86.5"/>
<path d="M529.5,93.0 C530.2,92.6 532.2,90.8 533.5,90.5 C534.8,90.2 536.4,90.9 537.0,91.0"/>
<path d="M562.0,127.5 C563.3,128.0 567.1,128.9 570.0,130.5 C572.9,132.1 576.2,135.6 579.4,137.3 C582.5,139.1 585.8,140.0 588.9,141.0 C592.0,142.0 595.2,142.6 598.3,143.5 C601.4,144.4 604.9,145.9 607.7,146.2 C610.5,146.5 613.1,146.2 615.3,145.3 C617.5,144.4 619.1,142.5 621.0,141.0 C622.9,139.5 625.0,137.7 626.6,136.3 C628.2,134.9 629.2,134.1 630.4,132.5 C631.6,130.9 633.4,127.9 634.0,127.0"/>
<path d="M539.0,114.0 C540.5,115.0 545.2,118.3 548.0,120.0 C550.8,121.7 551.7,122.3 556.0,124.0 C560.3,125.7 568.7,128.2 574.0,130.0 C579.3,131.8 583.7,133.8 588.0,134.5 C592.3,135.2 596.3,134.8 600.0,134.0 C603.7,133.2 607.0,131.7 610.0,130.0 C613.0,128.3 616.7,125.0 618.0,124.0"/>
<path d="M559.0,88.0 C560.5,88.4 564.8,89.7 568.0,90.5 C571.2,91.3 575.2,92.0 578.0,93.0 C580.8,94.0 583.0,95.4 585.0,96.5 C587.0,97.6 588.3,98.8 590.0,99.5 C591.7,100.2 593.3,100.8 595.0,100.5 C596.7,100.2 598.3,98.2 600.0,98.0 C601.7,97.8 603.3,98.7 605.0,99.5 C606.7,100.3 608.5,101.8 610.0,103.0 C611.5,104.2 612.7,106.0 614.0,107.0 C615.3,108.0 616.3,108.3 618.0,109.0 C619.7,109.7 622.3,110.4 624.0,111.0 C625.7,111.6 626.8,111.8 628.0,112.5 C629.2,113.2 630.3,114.1 631.0,115.0 C631.7,115.9 631.8,117.5 632.0,118.0"/>
<path d="M576.0,94.0 L573.0,97.0"/>
<path d="M583.0,97.5 C582.3,98.1 580.0,99.9 579.0,101.0 C578.0,102.1 577.3,103.5 577.0,104.0"/>
<path d="M588.0,99.0 L587.0,102.0"/>
<path d="M561.0,91.5 C562.5,91.8 567.2,92.8 570.0,93.5 C572.8,94.2 576.7,95.6 578.0,96.0"/>
<path d="M622.0,114.0 C622.7,114.5 625.2,115.8 626.0,117.0 C626.8,118.2 627.3,119.7 627.0,121.0 C626.7,122.3 624.5,124.3 624.0,125.0"/>
<path d="M579.0,121.5 C578.8,122.0 578.8,123.7 578.0,124.5 C577.2,125.3 575.7,126.1 574.0,126.5 C572.3,126.9 570.3,127.2 568.0,127.0 C565.7,126.8 561.3,125.8 560.0,125.5"/>
<path d="M611.0,121.0 C611.5,121.8 613.2,124.5 614.0,126.0 C614.8,127.5 616.0,128.5 616.0,130.0 C616.0,131.5 614.3,134.2 614.0,135.0"/>
<path d="M637.0,119.4 C636.2,119.8 633.7,120.3 632.0,121.5 C630.3,122.7 628.8,125.2 627.0,126.5 C625.2,127.8 622.7,128.0 621.0,129.5 C619.3,131.0 618.6,133.7 617.0,135.3 C615.4,136.9 612.8,137.6 611.5,139.0 C610.2,140.4 609.4,143.2 609.0,144.0"/>
<path d="M635.5,122.5 C634.7,123.2 632.0,125.8 630.5,127.0 C629.0,128.2 627.8,128.6 626.5,130.0 C625.2,131.4 624.0,134.2 622.5,135.5 C621.0,136.8 618.8,136.7 617.5,138.0 C616.2,139.3 615.0,142.6 614.5,143.5"/>
<path d="M631.0,117.0 C630.2,117.5 627.4,118.8 626.0,120.0 C624.6,121.2 623.8,123.3 622.5,124.5 C621.2,125.7 619.2,125.9 618.0,127.0 C616.8,128.1 615.9,130.3 615.5,131.0"/>
<path d="M637.5,125.0 C636.8,125.8 634.3,128.8 633.0,130.0 C631.7,131.2 630.7,131.2 629.5,132.5 C628.3,133.8 627.3,136.5 626.0,138.0 C624.7,139.5 622.2,140.9 621.5,141.5"/>
<path d="M576.0,135.0 C576.5,136.0 578.4,138.5 579.0,141.0 C579.6,143.5 579.6,146.8 579.5,150.0 C579.4,153.2 579.1,156.9 578.5,160.0 C577.9,163.1 577.4,165.2 576.0,168.8 C574.6,172.2 572.0,177.1 570.0,181.0 C568.0,184.9 565.5,189.0 564.0,192.0 C562.5,195.0 561.5,197.8 561.0,199.0"/>
<path d="M610.5,111 a4.7,3.2 -15 1 0 9.4,0 a4.7,3.2 -15 1 0 -9.4,0"/>
<path d="M598.5,120 a5.6,3.2 -10 1 0 11.2,0 a5.6,3.2 -10 1 0 -11.2,0"/>
<path d="M664.0,291.0 C664.5,290.6 667.0,289.1 667.0,288.5 C667.0,287.9 665.6,286.6 664.0,287.5 C662.4,288.4 659.4,291.9 657.5,293.8 C655.6,295.6 653.8,296.7 652.5,298.8 C651.2,300.8 650.6,303.1 650.0,306.0 C649.4,308.9 649.6,313.5 648.8,316.0 C647.9,318.5 647.1,319.5 645.0,321.0 C642.9,322.5 638.5,323.9 636.0,325.0 C633.5,326.1 633.3,326.0 630.0,327.5 C626.7,329.0 619.3,331.9 616.0,333.8 C612.7,335.6 611.4,336.9 610.0,338.8 C608.6,340.6 607.8,342.5 607.5,345.0 C607.2,347.5 608.4,351.1 608.0,353.8 C607.6,356.4 606.3,359.1 605.0,361.0 C603.7,362.9 602.5,364.3 600.0,365.0 C597.5,365.7 592.5,365.7 590.0,365.0 C587.5,364.3 586.2,362.7 585.0,361.0 C583.8,359.3 582.9,356.0 582.5,355.0"/>
<path d="M610.0,338.0 C610.2,337.1 610.4,334.7 611.0,332.5 C611.6,330.3 613.5,327.6 613.8,325.0 C614.0,322.4 612.7,318.3 612.5,317.0"/>
<path d="M778.5,254.6 C779.1,254.9 781.6,256.0 782.0,256.5 C782.4,257.0 782.4,256.6 781.0,257.5 C779.6,258.4 775.6,260.3 773.8,262.0 C771.9,263.7 771.5,264.9 770.0,267.5 C768.5,270.1 766.7,275.1 765.0,277.5 C763.3,279.9 763.3,280.1 760.0,282.0 C756.7,283.9 748.8,286.6 745.0,288.8 C741.2,290.9 740.0,292.7 737.5,295.0 C735.0,297.3 731.8,300.4 730.0,302.5 C728.2,304.6 727.2,305.2 727.0,307.5 C726.8,309.8 728.9,314.1 728.8,316.0 C728.6,317.9 727.0,318.9 726.0,318.8 C725.0,318.6 723.3,316.7 722.5,315.0 C721.7,313.3 721.6,310.5 721.0,308.8 C720.4,307.0 720.2,305.0 718.8,304.4 C717.3,303.8 713.5,304.9 712.5,305.0"/>
</g>
<rect x="306" y="75" width="10" height="6" rx="1" class="c" transform="rotate(-8 311 78)"/>
<rect x="240" y="117" width="10" height="6" rx="1" class="c" transform="rotate(-15 245 120)"/>
<rect x="119" y="190" width="8" height="6" rx="2" class="c"/>
<rect x="190.3" y="97.5" width="3.6" height="4.2" rx="1.2" class="c"/>
<ellipse cx="208.75" cy="103" rx="5" ry="3" class="c" transform="rotate(10 208.75 103)"/>
<ellipse cx="225" cy="107.5" rx="5" ry="2.6" class="c" transform="rotate(15 225 107.5)"/>
<ellipse cx="312.2" cy="55" rx="3.4" ry="2.9" class="c"/>
<ellipse cx="319.5" cy="55.4" rx="2.5" ry="2.2" class="c"/>
<rect x="413.6" y="132" width="6" height="5.6" rx="1.6" class="c"/>
<ellipse cx="318.75" cy="222" rx="4.5" ry="2.6" class="c"/>
<rect x="448.2" y="99.8" width="5.2" height="5" rx="1.5" class="c"/>
<rect x="516" y="92.7" width="6" height="4.4" rx="1.5" class="c"/>
<ellipse cx="520" cy="86" rx="3.3" ry="2.6" class="c" transform="rotate(20 520 86)"/>
<ellipse cx="536" cy="82" rx="3.4" ry="2.5" class="c"/>
<rect x="536.7" y="86" width="4.6" height="4.2" rx="1" class="c"/>
<rect x="536.7" y="92" width="4.6" height="4.6" rx="1" class="c"/>
<ellipse cx="551" cy="97.2" rx="3.4" ry="2.5" class="c"/>
<ellipse cx="557" cy="81" rx="3.6" ry="2.6" class="c" transform="rotate(-35 557 81)"/>
<rect x="558" y="88.7" width="4.6" height="4.6" rx="1" class="c"/>
<rect x="568.8" y="97.5" width="4.4" height="5" rx="1" class="c"/>
<rect x="573.8" y="104.3" width="4.6" height="5.2" rx="1" class="c"/>
<rect x="583.8" y="102.3" width="4.4" height="5.2" rx="1" class="c"/>
<rect x="576.7" y="118" width="4.8" height="3.8" rx="1.5" class="c"/>
<rect x="632.5" y="129" width="4.5" height="4" rx="1" class="c"/>
<ellipse cx="569" cy="190.5" rx="5" ry="2.3" class="c" transform="rotate(-48 569 190.5)"/>
<ellipse cx="566.5" cy="193" rx="5.5" ry="2" class="c" transform="rotate(-55 566.5 193)"/>
<g class="c" style="stroke-width:1.6" transform="rotate(-14 573 345)"><ellipse cx="568.6" cy="344.6" rx="2.8" ry="6"/><ellipse cx="570.6" cy="344.8" rx="3" ry="6.4"/><ellipse cx="572.8" cy="345" rx="3.1" ry="6.8"/><ellipse cx="575.6" cy="345.6" rx="3.1" ry="7"/><ellipse cx="576.6" cy="346" rx="1.7" ry="5"/></g>
<g class="c" style="stroke-width:1.6" transform="rotate(-25 582 352)"><ellipse cx="580.6" cy="351.6" rx="2.5" ry="4.6"/><ellipse cx="582.8" cy="352.2" rx="2.4" ry="4.4"/><ellipse cx="583.2" cy="352.3" rx="0.9" ry="2.4"/></g>
<rect x="604.5" y="312" width="6.5" height="4.6" rx="1.3" class="c" transform="rotate(25 607.5 314.4)"/>
<rect x="602" y="318.7" width="6.5" height="4.6" rx="1.3" class="c" transform="rotate(25 605 321)"/>
<rect x="633" y="317" width="6" height="4.2" rx="1.3" class="c" transform="rotate(-20 636 319)"/>
<ellipse cx="631" cy="323.75" rx="3" ry="2.4" class="c"/>
<ellipse cx="594.4" cy="360.6" rx="3.2" ry="2.6" class="c"/>
<g class="c" style="stroke-width:1.6"><circle cx="714" cy="305.8" r="2.6"/><ellipse cx="710.6" cy="306.8" rx="3.3" ry="7"/><ellipse cx="707.8" cy="307.3" rx="3.5" ry="7.3"/><rect x="698.5" y="304.8" width="7.2" height="6.6"/><ellipse cx="696" cy="307.7" rx="3.4" ry="6.9"/><ellipse cx="696.8" cy="308" rx="1.5" ry="4.2" style="fill:#000"/><ellipse cx="692.6" cy="307.2" rx="3.2" ry="6.5"/><ellipse cx="690" cy="306.8" rx="3" ry="6"/><ellipse cx="705.8" cy="307.6" rx="1.3" ry="4" style="fill:#000"/></g>
<rect x="735.5" y="281" width="8" height="4" rx="1.3" class="c" transform="rotate(8 739.4 283)"/>
<rect x="737" y="287.5" width="6" height="4.4" rx="1.5" class="c"/>
<ellipse cx="730.8" cy="312.3" rx="2.3" ry="2.8" class="c"/>
<rect x="262.5" y="258.75" width="11.2" height="12" rx="3.8" class="c" style="stroke-width:1.3"/>
<g class="c" style="stroke-width:1.5" transform="rotate(-17 554.4 163)"><rect x="556" y="161.3" width="9.6" height="3.4" rx="0.8"/><path d="M558.3,161.3v3.4M560.3,161.3v3.4M562.3,161.3v3.4M564.2,161.3v3.4" style="stroke-width:1"/><ellipse cx="555.6" cy="163" rx="2.4" ry="6.2"/><ellipse cx="553.6" cy="163" rx="2.4" ry="6.2"/><path d="M545.5,158.8 L552.2,158.8 L552.2,167.2 L545.5,167.2Z"/><ellipse cx="545.4" cy="163" rx="3" ry="4.4"/><path d="M548.5,160.2 L551.8,160.2 M548.5,165.8 L551.8,165.8" style="stroke-width:1"/></g>
<text class="n" transform="translate(218.0,62.5) scale(0.9,1)" text-anchor="middle">3</text>
<text class="n" transform="translate(422.0,82.5) scale(0.9,1)" text-anchor="middle">2</text>
<text class="n" transform="translate(577.0,74.0) scale(0.9,1)" text-anchor="middle">1</text>
<text class="n" transform="translate(552.0,144.0) scale(0.9,1)" text-anchor="middle">8</text>
<text class="n" transform="translate(634.4,279.0) scale(0.9,1)" text-anchor="middle">4</text>
<text class="n" transform="translate(634.0,292.5) scale(0.9,1)" text-anchor="middle">5</text>
<text class="n" transform="translate(754.8,255.0) scale(0.9,1)" text-anchor="middle">6</text>
<text class="n" transform="translate(754.8,268.5) scale(0.9,1)" text-anchor="middle">7</text>
<text x="659.5" y="405" textLength="55.2" lengthAdjust="spacingAndGlyphs" style="font-size:10.4px;stroke:#000;stroke-width:0.15px">SNAGB0707</text>
<path d="M27.2,402.8 L32.4,390.5 L33.8,393.8 L52.2,386.8 L55.9,397.1 L39,403.7 L40.4,408.4Z" fill="#000"/>
<text x="56.6" y="396.6" transform="rotate(-24 56.6 396.6)" style="font-size:15px;font-weight:bold;letter-spacing:0.2px;stroke:#000;stroke-width:0.8px;stroke-linejoin:round">FR.</text>
</svg>
</body></html>
